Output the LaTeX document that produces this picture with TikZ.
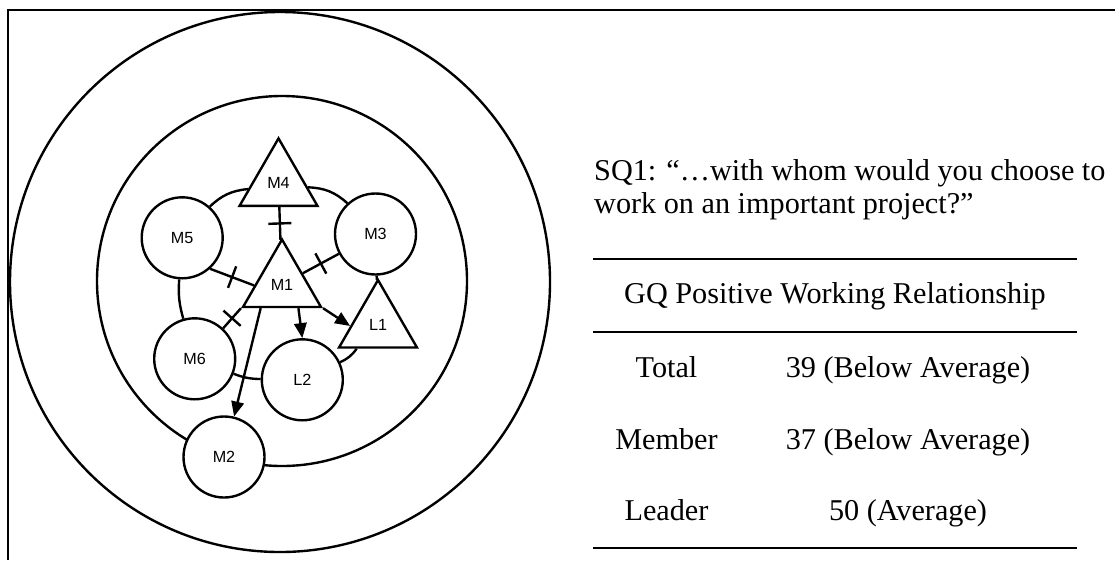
\documentclass[tikz,border=0pt]{standalone}
\usepackage{fontspec}
\setmainfont{Liberation Serif}
\newfontfamily\labelfont{Liberation Sans}
\usetikzlibrary{shapes.geometric,arrows.meta,decorations.markings,calc}

\tikzset{
  disc/.style={circle,draw,fill=white,line width=0.68pt,minimum size=0.81cm,inner sep=0pt,
    font=\labelfont\fontsize{4.6}{5}\selectfont},
  tri/.style={regular polygon,regular polygon sides=3,draw,fill=white,line width=0.68pt,
    minimum size=0.90cm,inner sep=0pt,font=\labelfont\fontsize{4.6}{5}\selectfont},
  tie/.style={postaction={decorate},decoration={markings,
    mark=at position .5 with {\draw[line width=0.68pt] (0,-1.15mm) -- (0,1.15mm);}}},
  cell/.style={font=\fontsize{8.6}{9.4}\selectfont,inner sep=0pt,anchor=base},
  rule/.style={line width=0.7pt}
}

\begin{document}
\begin{tikzpicture}[line width=0.68pt,>={Triangle[length=1.5mm,width=1.25mm]}]
\useasboundingbox (0,0) rectangle (11.15,-5.60);
\draw (0.083,-5.60) |- (11.15,-0.10);

\draw (2.80,-2.82) circle (2.70);
\draw (2.82,-2.81) circle (1.85);

\node[tri] (M4) at (2.785,-1.834) {M4};
\node[tri] (M1) at (2.82,-2.845) {M1};
\node[tri] (L1) at (3.78,-3.25) {L1};
\node[disc] (M5) at (1.822,-2.378) {M5};
\node[disc] (M3) at (3.755,-2.34) {M3};
\node[disc] (M6) at (1.947,-3.588) {M6};
\node[disc] (L2) at (3.023,-3.798) {L2};
\node[disc] (M2) at (2.24,-4.57) {M2};

\draw (M5) to[bend left=19] (M4);
\draw (M4) to[bend left=20] (M3);
\draw (M3) -- (L1);
\draw ($(L1.corner 2)!.24!(L1.corner 3)$) to[bend left=15] (L2.25);
\draw (M6) to[bend right=10] (L2);
\draw (M5) to[bend right=10] (M6);

\draw[tie] (M1) -- (M4);
\draw[tie] ($(M1.corner 1)!.68!(M1.corner 2)$) -- (M5.-48);
\draw[tie] (M1) -- (M3);
\draw[tie] (M1.corner 2) -- (M6.47);
\draw[->] ($(M1.corner 2)!.7!(M1.corner 3)$) -- (L2.north);
\draw[->] (M1.corner 3) -- ($(L1.corner 1)!.68!(L1.corner 2)$);
\draw[->] ($(M1.corner 2)!.24!(M1.corner 3)$) -- (M2.76);

\node[cell,anchor=base west] (q1) at (5.93,-1.80) {SQ1: “…with whom would you choose to};
\node[cell,anchor=base west] (q2) at (5.93,-2.13) {work on an important project?”};
\draw[rule] (5.93,-2.59) -- (10.77,-2.59);
\node[cell] (head) at (8.35,-3.03) {GQ Positive Working Relationship};
\draw[rule] (5.93,-3.32) -- (10.77,-3.32);
\node[cell] (total) at (6.665,-3.77) {Total};
\node[cell] (totalv) at (9.08,-3.77) {39 (Below Average)};
\node[cell] (member) at (6.665,-4.49) {Member};
\node[cell] (memberv) at (9.08,-4.49) {37 (Below Average)};
\node[cell] (leader) at (6.665,-5.20) {Leader};
\node[cell] (leaderv) at (9.08,-5.20) {50 (Average)};
\draw[rule] (5.93,-5.48) -- (10.77,-5.48);

\end{tikzpicture}
\end{document}
